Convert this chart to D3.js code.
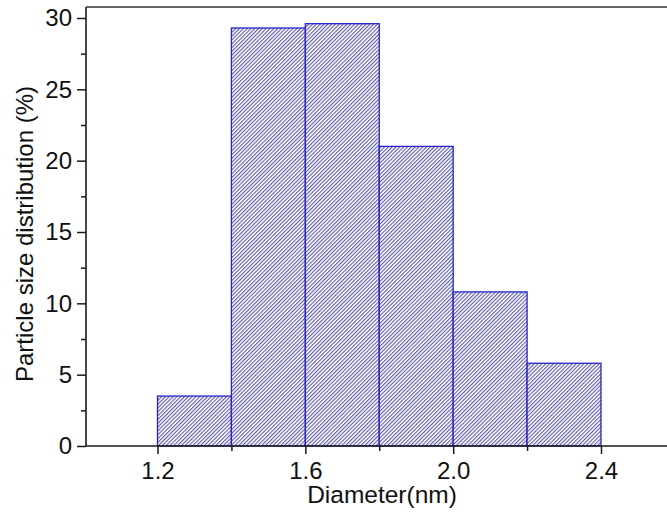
<!DOCTYPE html>
<html>
<head>
<meta charset="utf-8">
<script src="https://cdn.jsdelivr.net/npm/d3@7"></script>
<style>
  html, body { margin: 0; padding: 0; background: #fff; }
  svg { display: block; font-family: "Liberation Sans", Arial, sans-serif; }
</style>
</head>
<body>
<svg id="chart" width="667" height="524"></svg>
<script>
// Histogram bins (nm) and their share of particles (%)
const binStart = [1.2, 1.4, 1.6, 1.8, 2.0, 2.2];
const binEnd   = [1.4, 1.6, 1.8, 2.0, 2.2, 2.4];
const percent  = [3.5, 29.3, 29.6, 21.0, 10.8, 5.8];

const xMajorTicks = [1.2, 1.6, 2.0, 2.4];
const xMinorTicks = [1.4, 1.8, 2.2];
const yMajorTicks = [0, 5, 10, 15, 20, 25, 30];
const yMinorTicks = [2.5, 7.5, 12.5, 17.5, 22.5, 27.5];

const svg = d3.select("#chart");
const W = 667, H = 524;
const plotLeft = 86, plotTop = 7, plotBottom = 446;
const FONT = "'Liberation Sans', Arial, sans-serif";

const x = d3.scaleLinear().domain([1.2, 2.4]).range([157.5, 601]);
const y = d3.scaleLinear().domain([0, 30]).range([plotBottom, 18]);

// diagonal hatch fill
const defs = svg.append("defs");
const pat = defs.append("pattern")
  .attr("id", "hatch")
  .attr("patternUnits", "userSpaceOnUse")
  .attr("width", 2.7).attr("height", 2.7)
  .attr("patternTransform", "rotate(45)");
pat.append("rect").attr("width", 2.7).attr("height", 2.7).attr("fill", "#ffffff");
pat.append("line")
  .attr("x1", 0.6).attr("y1", 0).attr("x2", 0.6).attr("y2", 2.7)
  .attr("stroke", "#40409e").attr("stroke-width", 0.95);

// bars
svg.append("g").selectAll("rect")
  .data(percent)
  .join("rect")
  .attr("x", (d, i) => x(binStart[i]))
  .attr("y", d => y(d))
  .attr("width", (d, i) => x(binEnd[i]) - x(binStart[i]))
  .attr("height", d => y(0) - y(d))
  .attr("fill", "url(#hatch)")
  .attr("stroke", "#2424c8")
  .attr("stroke-width", 1.3);

const axisColor = "#1a1a1a";

// x axis
const xAxis = svg.append("g").attr("transform", `translate(0,${plotBottom})`);
xAxis.call(d3.axisBottom(x).tickValues(xMajorTicks).tickFormat(d3.format(".1f"))
  .tickSize(8).tickSizeOuter(0).tickPadding(8));
xAxis.append("g").call(d3.axisBottom(x).tickValues(xMinorTicks).tickFormat("")
  .tickSize(5).tickSizeOuter(0));
xAxis.selectAll(".domain").remove();
xAxis.append("line").attr("x1", plotLeft).attr("x2", W).attr("y1", 0).attr("y2", 0)
  .attr("stroke", axisColor).attr("stroke-width", 1.6);
xAxis.attr("font-size", 24).attr("font-family", FONT);

// y axis
const yAxis = svg.append("g").attr("transform", `translate(${plotLeft},0)`);
yAxis.call(d3.axisLeft(y).tickValues(yMajorTicks).tickFormat(d3.format("d"))
  .tickSize(9).tickSizeOuter(0).tickPadding(5));
yAxis.append("g").call(d3.axisLeft(y).tickValues(yMinorTicks).tickFormat("")
  .tickSize(5).tickSizeOuter(0));
yAxis.selectAll(".domain").remove();
yAxis.append("line").attr("x1", 0).attr("x2", 0).attr("y1", plotTop).attr("y2", plotBottom)
  .attr("stroke", axisColor).attr("stroke-width", 1.6);
yAxis.attr("font-size", 24).attr("font-family", FONT);

// top frame line
svg.append("line").attr("x1", plotLeft).attr("x2", W).attr("y1", plotTop).attr("y2", plotTop)
  .attr("stroke", "#333").attr("stroke-width", 1.6);

svg.selectAll(".tick line").attr("stroke", axisColor).attr("stroke-width", 1.5);
svg.selectAll(".tick text").attr("fill", "#111");

// axis titles
svg.append("text")
  .attr("x", 382).attr("y", 503)
  .attr("text-anchor", "middle")
  .attr("fill", "#111")
  .attr("font-size", 24.5)
  .text("Diameter(nm)");

svg.append("text")
  .attr("transform", "translate(33,234) rotate(-90)")
  .attr("text-anchor", "middle")
  .attr("fill", "#111")
  .attr("font-size", 24)
  .text("Particle size distribution (%)");
</script>
</body>
</html>
